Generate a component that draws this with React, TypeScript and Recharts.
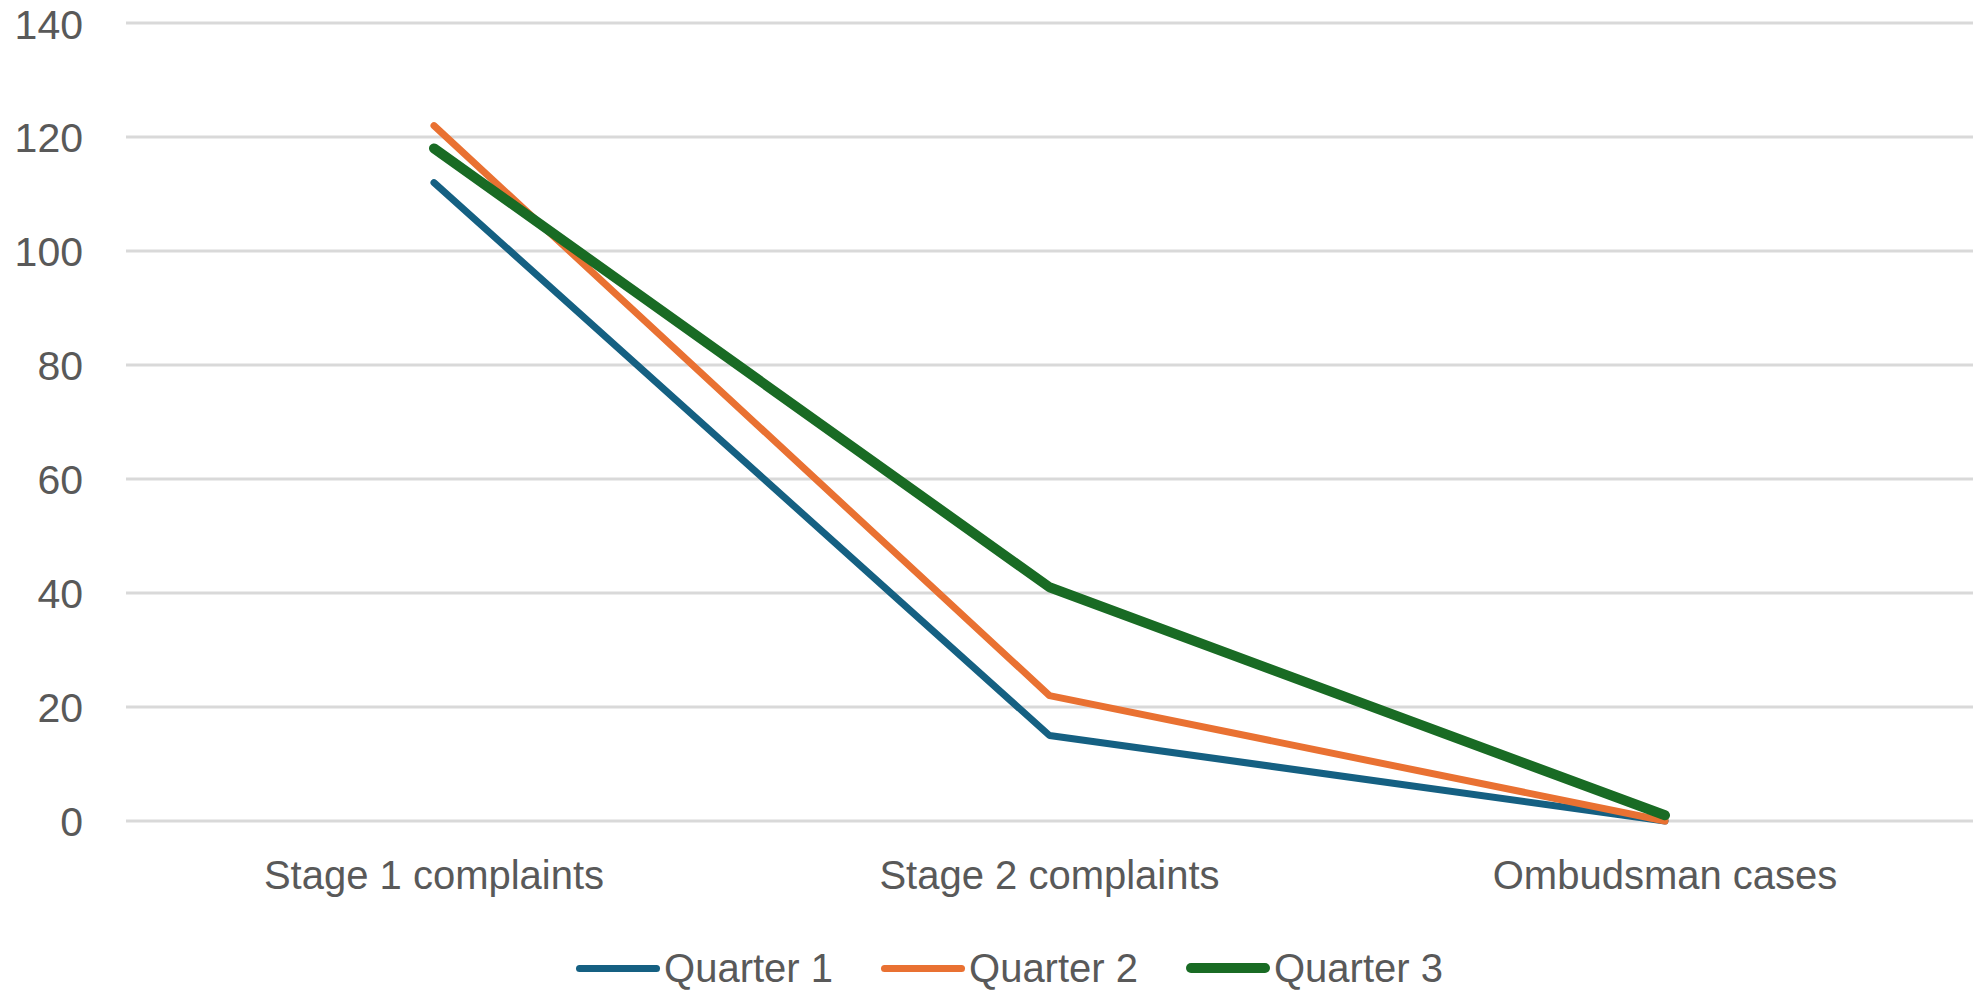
import React from 'react';
import { LineChart, Line, XAxis, YAxis, CartesianGrid, Legend } from 'recharts';

const categories = ['Stage 1 complaints', 'Stage 2 complaints', 'Ombudsman cases'];
const quarter1 = [112, 15, 0];
const quarter2 = [122, 22, 0];
const quarter3 = [118, 41, 1];
const yTicks = [0, 20, 40, 60, 80, 100, 120, 140];

const SERIES = [
  { key: 'q1', name: 'Quarter 1', color: '#156082', width: 7 },
  { key: 'q2', name: 'Quarter 2', color: '#E97132', width: 7 },
  { key: 'q3', name: 'Quarter 3', color: '#196B24', width: 10 },
];

const data = categories.map((name, i) => ({
  name,
  q1: quarter1[i],
  q2: quarter2[i],
  q3: quarter3[i],
}));

const TEXT = '#595959';
const FONT = '"Liberation Sans", Arial, sans-serif';

// plot is 1847px wide with 3 categories -> half a band on each side
const HALF_BAND = 308;

const renderLegend = () => (
  <div style={{ display: 'flex', justifyContent: 'center', alignItems: 'center', gap: 48, paddingLeft: 42 }}>
    {SERIES.map((s) => (
      <div key={s.key} style={{ display: 'flex', alignItems: 'center' }}>
        <span
          style={{
            display: 'inline-block',
            width: 84,
            height: s.width,
            borderRadius: s.width,
            background: s.color,
            marginRight: 4,
          }}
        />
        <span style={{ fontFamily: FONT, fontSize: 40, color: TEXT, lineHeight: 1 }}>{s.name}</span>
      </div>
    ))}
  </div>
);

export default function App() {
  return (
    <div style={{ position: 'absolute', left: 0, top: 0, background: '#fff' }}>
      <LineChart width={1977} height={991} data={data} margin={{ top: 23, right: 4, left: 0, bottom: 110 }}>
        <CartesianGrid vertical={false} stroke="#d9d9d9" strokeWidth={3} />
        <XAxis
          dataKey="name"
          axisLine={false}
          tickLine={false}
          height={60}
          tickMargin={34}
          padding={{ left: HALF_BAND, right: HALF_BAND }}
          tick={{ fill: TEXT, fontSize: 40, fontFamily: FONT }}
          interval={0}
        />
        <YAxis
          domain={[0, 140]}
          ticks={yTicks}
          axisLine={false}
          tickLine={false}
          width={126}
          tickMargin={37}
          tick={{ fill: TEXT, fontSize: 41, fontFamily: FONT }}
        />
        <Legend
          layout="horizontal"
          verticalAlign="middle"
          align="center"
          content={renderLegend}
          wrapperStyle={{ top: 948, left: 0, width: 1977 }}
        />
        {SERIES.map((s) => (
          <Line
            key={s.key}
            type="linear"
            dataKey={s.key}
            name={s.name}
            stroke={s.color}
            strokeWidth={s.width}
            strokeLinecap="round"
            strokeLinejoin="round"
            dot={false}
            activeDot={false}
            isAnimationActive={false}
          />
        ))}
      </LineChart>
    </div>
  );
}
